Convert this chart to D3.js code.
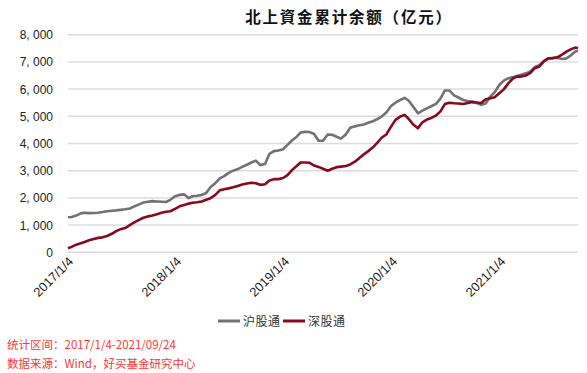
<!DOCTYPE html>
<html>
<head>
<meta charset="utf-8">
<script src="https://cdn.jsdelivr.net/npm/d3@7"></script>
<style>
    body { margin: 0; background: #fff; }
    svg { display: block; }
</style>
</head>
<body>
<svg id="chart" width="587" height="373"></svg>
<script>
// Dates (1st and 16th of each month)
const dates = [
    '2017-01-04', '2017-01-16', '2017-02-01', '2017-02-16', '2017-03-01', '2017-03-16',
    '2017-04-01', '2017-04-16', '2017-05-01', '2017-05-16', '2017-06-01', '2017-06-16',
    '2017-07-01', '2017-07-16', '2017-08-01', '2017-08-16', '2017-09-01', '2017-09-16',
    '2017-10-01', '2017-10-16', '2017-11-01', '2017-11-16', '2017-12-01', '2017-12-16',
    '2018-01-01', '2018-01-16', '2018-02-01', '2018-02-16', '2018-03-01', '2018-03-16',
    '2018-04-01', '2018-04-16', '2018-05-01', '2018-05-16', '2018-06-01', '2018-06-16',
    '2018-07-01', '2018-07-16', '2018-08-01', '2018-08-16', '2018-09-01', '2018-09-16',
    '2018-10-01', '2018-10-16', '2018-11-01', '2018-11-16', '2018-12-01', '2018-12-16',
    '2019-01-01', '2019-01-16', '2019-02-01', '2019-02-16', '2019-03-01', '2019-03-16',
    '2019-04-01', '2019-04-16', '2019-05-01', '2019-05-16', '2019-06-01', '2019-06-16',
    '2019-07-01', '2019-07-16', '2019-08-01', '2019-08-16', '2019-09-01', '2019-09-16',
    '2019-10-01', '2019-10-16', '2019-11-01', '2019-11-16', '2019-12-01', '2019-12-16',
    '2020-01-01', '2020-01-16', '2020-02-01', '2020-02-16', '2020-03-01', '2020-03-16',
    '2020-04-01', '2020-04-16', '2020-05-01', '2020-05-16', '2020-06-01', '2020-06-16',
    '2020-07-01', '2020-07-16', '2020-08-01', '2020-08-16', '2020-09-01', '2020-09-16',
    '2020-10-01', '2020-10-16', '2020-11-01', '2020-11-16', '2020-12-01', '2020-12-16',
    '2021-01-01', '2021-01-16', '2021-02-01', '2021-02-16', '2021-03-01', '2021-03-16',
    '2021-04-01', '2021-04-16', '2021-05-01', '2021-05-16', '2021-06-01', '2021-06-16',
    '2021-07-01', '2021-07-16', '2021-08-01', '2021-08-16', '2021-09-01', '2021-09-16',
    '2021-09-24'
];

// 沪股通
const shValues = [
    1290, 1300, 1350, 1430, 1455, 1440, 1445, 1455, 1480, 1510, 1530, 1540,
    1560, 1580, 1610, 1690, 1760, 1830, 1860, 1880, 1870, 1860, 1850, 1930,
    2060, 2110, 2130, 1990, 2060, 2080, 2110, 2180, 2400, 2530, 2720, 2800,
    2920, 3000, 3060, 3140, 3220, 3300, 3370, 3210, 3250, 3620, 3720, 3740,
    3790, 3950, 4120, 4250, 4400, 4430, 4420, 4350, 4100, 4100, 4330, 4320,
    4250, 4180, 4330, 4580, 4630, 4670, 4700, 4760, 4820, 4900, 5000, 5140,
    5380, 5500, 5600, 5680, 5570, 5350, 5110, 5210, 5290, 5370, 5460, 5650,
    5950, 5950, 5770, 5690, 5600, 5560, 5530, 5490, 5420, 5470, 5720, 5880,
    6150, 6310, 6400, 6440, 6480, 6530, 6580, 6650, 6810, 6880, 7030, 7130,
    7140, 7150, 7105, 7130, 7250, 7390, 7400
];

// 深股通
const szValues = [
    150, 200, 280, 330, 380, 440, 490, 530, 550, 600, 680, 780,
    850, 890, 1000, 1100, 1190, 1270, 1320, 1350, 1400, 1450, 1490, 1510,
    1600, 1690, 1740, 1790, 1820, 1840, 1870, 1930, 1990, 2100, 2280, 2320,
    2350, 2390, 2440, 2490, 2530, 2560, 2540, 2480, 2500, 2640, 2690, 2690,
    2730, 2840, 3030, 3170, 3300, 3300, 3290, 3190, 3140, 3070, 3000, 3070,
    3130, 3150, 3170, 3230, 3330, 3470, 3600, 3720, 3860, 4030, 4220, 4330,
    4620, 4870, 4990, 5050, 4900, 4700, 4560, 4780, 4880, 4940, 5030, 5180,
    5450, 5500, 5480, 5470, 5450, 5490, 5530, 5510, 5490, 5630, 5660, 5700,
    5850, 5990, 6220, 6390, 6460, 6460, 6500, 6600, 6770, 6830, 7030, 7130,
    7140, 7170, 7270, 7380, 7470, 7530, 7500
];

const yTicks = [0, 1000, 2000, 3000, 4000, 5000, 6000, 7000, 8000];
const xTicks = ['2017-01-04', '2018-01-04', '2019-01-04', '2020-01-04', '2021-01-04'];

const seriesNames = ['沪股通', '深股通'];
const seriesColors = ['#727272', '#86091d'];

const title = '北上資金累计余额（亿元）';
const notes = ['统计区间：2017/1/4-2021/09/24', '数据来源：Wind，好买基金研究中心'];

const parse = d3.timeParse('%Y-%m-%d');
const fmtTick = d3.timeFormat('%Y/%-m/%-d');

const svg = d3.select('#chart');
const margin = { left: 68, right: 9, top: 35, bottom: 121 };
const width = 587, height = 373;

const x = d3.scaleTime()
    .domain([parse(dates[0]), parse(dates[dates.length - 1])])
    .range([margin.left, width - margin.right]);

const y = d3.scaleLinear()
    .domain([0, 8000])
    .range([height - margin.bottom + 0.3, margin.top - 0.3]);

// Title
svg.append('text')
    .attr('x', 349)
    .attr('y', 23)
    .attr('text-anchor', 'middle')
    .attr('font-family', '"Noto Sans CJK SC", sans-serif')
    .attr('font-weight', 'bold')
    .attr('font-size', 15.5)
    .attr('letter-spacing', 1.8)
    .attr('fill', '#111')
    .text(title);

// Gridlines
svg.append('g')
    .selectAll('line')
    .data(yTicks)
    .join('line')
    .attr('x1', margin.left)
    .attr('x2', width - margin.right)
    .attr('y1', d => y(d))
    .attr('y2', d => y(d))
    .attr('stroke', '#dcdcdc')
    .attr('stroke-width', 1.5);

// Y labels
svg.append('g')
    .selectAll('text')
    .data(yTicks)
    .join('text')
    .attr('x', 53)
    .attr('y', d => y(d) + 4.5)
    .attr('text-anchor', 'end')
    .attr('font-family', '"Liberation Sans", Arial, sans-serif')
    .attr('font-size', 12)
    .attr('fill', '#222')
    .text(d => d3.format(',')(d).replace(',', ', '));

// X labels, rotated
svg.append('g')
    .selectAll('text')
    .data(xTicks.map(parse))
    .join('text')
    .attr('transform', d => `translate(${x(d) + 6},${y(0) + 10}) rotate(-45)`)
    .attr('text-anchor', 'end')
    .attr('font-family', '"Liberation Sans", Arial, sans-serif')
    .attr('font-size', 12.8)
    .attr('fill', '#222')
    .text(d => fmtTick(d));

// Lines
const line = d3.line()
    .x(d => x(d.date))
    .y(d => y(d.value))
    .curve(d3.curveLinear);

[shValues, szValues].forEach((vals, i) => {
    const pts = dates.map((d, j) => ({ date: parse(d), value: vals[j] }));
    svg.append('path')
        .datum(pts)
        .attr('fill', 'none')
        .attr('stroke', seriesColors[i])
        .attr('stroke-width', 2.6)
        .attr('stroke-linejoin', 'round')
        .attr('d', line);
});

// Legend
const legend = svg.append('g');
const legendX = [218, 283];
seriesNames.forEach((name, i) => {
    legend.append('line')
        .attr('x1', legendX[i])
        .attr('x2', legendX[i] + 22)
        .attr('y1', 321)
        .attr('y2', 321)
        .attr('stroke', seriesColors[i])
        .attr('stroke-width', 3);
    legend.append('text')
        .attr('x', legendX[i] + 25)
        .attr('y', 326)
        .attr('font-family', '"Noto Sans CJK SC", sans-serif')
        .attr('font-size', 12)
        .attr('letter-spacing', 0.5)
        .attr('fill', '#333')
        .text(name);
});

// Footnotes
svg.append('g')
    .selectAll('text')
    .data(notes)
    .join('text')
    .attr('x', 7)
    .attr('y', (d, i) => 349 + i * 19)
    .attr('font-family', '"Noto Sans CJK SC", sans-serif')
    .attr('font-size', 11.5)
    .attr('fill', '#ff3636')
    .text(d => d);
</script>
</body>
</html>
